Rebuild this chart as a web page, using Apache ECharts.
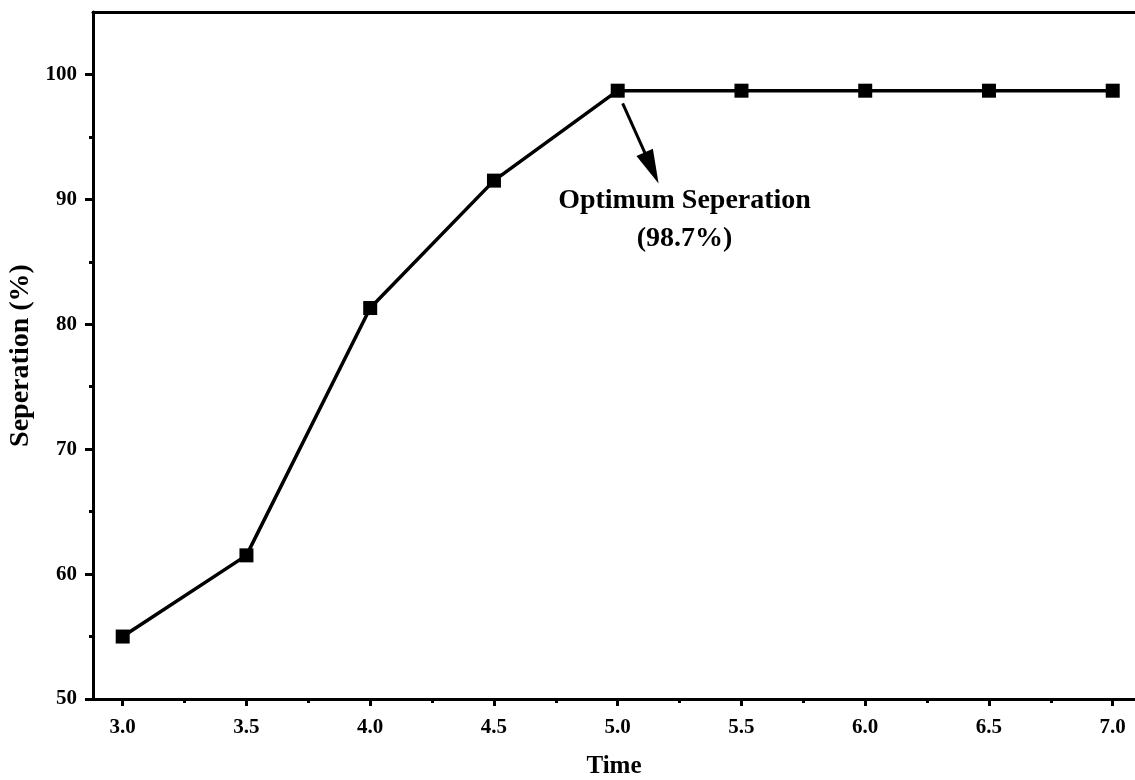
<!DOCTYPE html>
<html>
<head>
<meta charset="utf-8">
<script src="https://cdn.jsdelivr.net/npm/echarts@6/dist/echarts.min.js"></script>
<style>
  html, body { margin: 0; padding: 0; background: #fff; }
  #chart { width: 1135px; height: 780px; }
</style>
</head>
<body>
<div id="chart"></div>
<script>
// ---- data ----
const timeValues = [3.0, 3.5, 4.0, 4.5, 5.0, 5.5, 6.0, 6.5, 7.0];
const separationValues = [55.0, 61.5, 81.3, 91.5, 98.7, 98.7, 98.7, 98.7, 98.7];
const xMajorTicks = [3.0, 3.5, 4.0, 4.5, 5.0, 5.5, 6.0, 6.5, 7.0];
const xMinorTicks = [3.25, 3.75, 4.25, 4.75, 5.25, 5.75, 6.25, 6.75];
const yMajorTicks = [50, 60, 70, 80, 90, 100];
const yMinorTicks = [55, 65, 75, 85, 95];
const annotationText = 'Optimum Seperation\n(98.7%)';
const arrowFrom = [5.02, 97.68];
const arrowTo = [5.137, 92.52];
const annotationAt = [5.27, 88.4];

const FONT = '"Liberation Serif", "Times New Roman", serif';
const X_MIN = 2.88, X_MAX = 7.09, Y_MIN = 50, Y_MAX = 105;
const ARROW = 'path://M5,0 L10,20 L0,20 Z';

const chart = echarts.init(document.getElementById('chart'), null, { renderer: 'canvas' });

const labelStyle = { fontFamily: FONT, fontWeight: 'bold', fontSize: 21, color: '#000' };

const option = {
  animation: false,
  backgroundColor: '#fff',
  grid: { left: 93, right: 0, top: 12, bottom: 81, containLabel: false, outerBoundsMode: 'none' },
  xAxis: [
    {
      type: 'value', min: X_MIN, max: X_MAX, position: 'bottom',
      axisLine: { show: true, onZero: false, lineStyle: { color: '#000', width: 3 } },
      axisTick: { show: true, inside: false, length: 7, lineStyle: { color: '#000', width: 3 }, customValues: xMajorTicks },
      axisLabel: Object.assign({ show: true, margin: 18, customValues: xMajorTicks, formatter: v => v.toFixed(1) }, labelStyle),
      splitLine: { show: false },
      name: 'Time', nameLocation: 'middle', nameGap: 55,
      nameTextStyle: { fontFamily: FONT, fontWeight: 'bold', fontSize: 25, color: '#000' }
    },
    {
      type: 'value', min: X_MIN, max: X_MAX, position: 'bottom',
      axisLine: { show: false, onZero: false },
      axisTick: { show: true, inside: false, length: 4, lineStyle: { color: '#000', width: 3 }, customValues: xMinorTicks },
      axisLabel: { show: false },
      splitLine: { show: false }
    },
    {
      type: 'value', min: X_MIN, max: X_MAX, position: 'top',
      axisLine: { show: true, onZero: false, lineStyle: { color: '#000', width: 3 } },
      axisTick: { show: false }, axisLabel: { show: false }, splitLine: { show: false }
    }
  ],
  yAxis: [
    {
      type: 'value', min: Y_MIN, max: Y_MAX, position: 'left',
      axisLine: { show: true, onZero: false, lineStyle: { color: '#000', width: 3 } },
      axisTick: { show: true, inside: false, length: 8, lineStyle: { color: '#000', width: 3 }, customValues: yMajorTicks },
      axisLabel: Object.assign({ show: true, margin: 16, customValues: yMajorTicks }, labelStyle),
      splitLine: { show: false },
      name: 'Seperation (%)', nameLocation: 'middle', nameGap: 50,
      nameTextStyle: { fontFamily: FONT, fontWeight: 'bold', fontSize: 28, color: '#000' }
    },
    {
      type: 'value', min: Y_MIN, max: Y_MAX, position: 'left',
      axisLine: { show: false, onZero: false },
      axisTick: { show: true, inside: false, length: 4, lineStyle: { color: '#000', width: 3 }, customValues: yMinorTicks },
      axisLabel: { show: false },
      splitLine: { show: false }
    }
  ],
  series: [
    {
      type: 'line',
      xAxisIndex: 0, yAxisIndex: 0,
      data: timeValues.map((t, i) => [t, separationValues[i]]),
      symbol: 'rect', symbolSize: 14,
      lineStyle: { color: '#000', width: 3.5 },
      itemStyle: { color: '#000' },
      z: 3,
      markLine: {
        silent: true,
        animation: false,
        symbol: ['none', ARROW],
        lineStyle: { color: '#000', width: 3, type: 'solid' },
        label: { show: false },
        data: [[
          { coord: arrowFrom, symbol: 'none' },
          { coord: arrowTo, symbol: ARROW, symbolSize: [18, 34] }
        ]]
      },
      markPoint: {
        silent: true,
        animation: false,
        symbol: 'circle', symbolSize: 1,
        itemStyle: { color: 'rgba(0,0,0,0)' },
        label: {
          show: true, position: 'inside', formatter: annotationText,
          fontFamily: FONT, fontWeight: 'bold', fontSize: 28, lineHeight: 38, color: '#000', align: 'center'
        },
        data: [{ coord: annotationAt }]
      }
    }
  ]
};

chart.setOption(option);
</script>
</body>
</html>
